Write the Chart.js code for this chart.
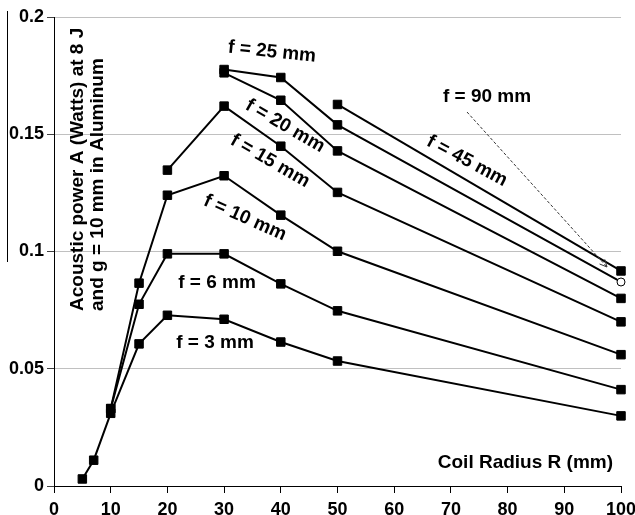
<!DOCTYPE html>
<html>
<head>
<meta charset="utf-8">
<script src="https://cdn.jsdelivr.net/npm/chart.js@4/dist/chart.umd.min.js"></script>
<style>
  html, body { margin: 0; padding: 0; background: #fff; }
  canvas { display: block; }
</style>
</head>
<body>
<canvas id="coilChart" width="635" height="515"></canvas>
<script>
// coil radius R (mm) and acoustic power (W) per focal distance f
const radii = [5, 7, 10, 15, 20, 30, 40, 50, 100];
const powerF3 = [0.003, 0.011, 0.031, 0.0606, 0.0728, 0.0711, 0.0614, 0.0533, 0.0299];
const powerF6 = [null, null, 0.033, 0.0775, 0.099, 0.099, 0.0862, 0.0747, 0.0411];
const powerF10 = [null, null, 0.033, 0.0865, 0.124, 0.1323, 0.1155, 0.1001, 0.056];
const powerF15 = [null, null, null, null, 0.1347, 0.162, 0.1449, 0.1252, 0.07];
const powerF20 = [null, null, null, null, null, 0.1762, 0.1645, 0.1429, 0.08];
const powerF25 = [null, null, null, null, null, 0.1776, 0.1742, 0.154, 0.087];
const powerF45 = [null, null, null, null, null, null, null, 0.1627, 0.0917];

const xTicks = [0, 10, 20, 30, 40, 50, 60, 70, 80, 90, 100];
const yTicks = [0, 0.05, 0.1, 0.15, 0.2];

const xTitle = "Coil Radius R (mm)";
const yTitle = ["Acoustic power A (Watts) at 8 J", "and g = 10 mm in Aluminum"];

// curve labels: text, centre x, centre y (px), angle (deg)
const curveLabels = [
  ["f = 25 mm", 272, 52, 6],
  ["f = 20 mm", 285, 126, 30],
  ["f = 15 mm", 270, 161, 30],
  ["f = 10 mm", 245, 218, 24],
  ["f = 6 mm", 217, 283, 0],
  ["f = 3 mm", 215, 343, 0],
  ["f = 45 mm", 467, 161, 28],
  ["f = 90 mm", 487, 97, 0],
];

const FONT = '"Liberation Sans", Arial, sans-serif';
Chart.defaults.font.family = FONT;
Chart.defaults.color = "#000";

const toPoints = (vals) =>
  radii.map((r, i) => ({ x: r, y: vals[i] })).filter((p) => p.y !== null);

const series = (label, vals) => ({
  label: label,
  data: toPoints(vals),
  borderColor: "#000",
  borderWidth: 2,
  pointStyle: "rect",
  pointRadius: 6,
  pointBackgroundColor: "#000",
  pointBorderColor: "#000",
  pointBorderWidth: 1,
  tension: 0,
  clip: false,
});

const f25 = series("f = 25 mm", powerF25);
f25.pointStyle = ["rect", "rect", "rect", "circle"];
f25.pointBackgroundColor = ["#000", "#000", "#000", "#fff"];
f25.pointRadius = [6, 6, 6, 4];

const annotate = {
  id: "annotate",
  afterDraw(chart) {
    const ctx = chart.ctx;
    ctx.save();
    ctx.strokeStyle = "#000";
    ctx.lineWidth = 1;
    ctx.beginPath();
    ctx.moveTo(7.5, 11);
    ctx.lineTo(7.5, 262);
    ctx.stroke();

    ctx.fillStyle = "#000";
    ctx.font = "bold 19px " + FONT;
    ctx.save();
    ctx.translate(83, 311);
    ctx.rotate(-Math.PI / 2);
    ctx.textAlign = "left";
    ctx.textBaseline = "alphabetic";
    ctx.fillText(yTitle[0], 0, 0);
    ctx.fillText(yTitle[1], 0, 20);
    ctx.restore();

    ctx.textAlign = "right";
    ctx.textBaseline = "middle";
    ctx.fillText(xTitle, 613, 463);

    ctx.font = "bold 19px " + FONT;
    ctx.textAlign = "center";
    curveLabels.forEach(([text, x, y, a]) => {
      ctx.save();
      ctx.translate(x, y);
      ctx.rotate((a * Math.PI) / 180);
      ctx.fillText(text, 0, 0);
      ctx.restore();
    });

    // dashed pointer from "f = 90 mm"
    const x0 = 467, y0 = 112, x1 = 607, y1 = 267;
    ctx.strokeStyle = "#333";
    ctx.setLineDash([3, 2]);
    ctx.beginPath();
    ctx.moveTo(x0, y0);
    ctx.lineTo(x1, y1);
    ctx.stroke();
    ctx.setLineDash([]);
    const ang = Math.atan2(y1 - y0, x1 - x0);
    ctx.beginPath();
    ctx.moveTo(x1 - 8 * Math.cos(ang - 0.45), y1 - 8 * Math.sin(ang - 0.45));
    ctx.lineTo(x1, y1);
    ctx.lineTo(x1 - 8 * Math.cos(ang + 0.45), y1 - 8 * Math.sin(ang + 0.45));
    ctx.stroke();
    ctx.restore();
  },
};

const ctx = document.getElementById("coilChart").getContext("2d");
const coilChart = new Chart(ctx, {
  type: "line",
  data: {
    datasets: [
      series("f = 3 mm", powerF3),
      series("f = 6 mm", powerF6),
      series("f = 10 mm", powerF10),
      series("f = 15 mm", powerF15),
      series("f = 20 mm", powerF20),
      f25,
      series("f = 45 mm", powerF45),
    ],
  },
  options: {
    responsive: false,
    animation: false,
    layout: { padding: { left: 0, right: 14, top: 17, bottom: 0 } },
    plugins: { legend: { display: false }, tooltip: { enabled: false } },
    scales: {
      x: {
        type: "linear",
        min: 0,
        max: 100,
        afterBuildTicks: (scale) => {
          scale.ticks = xTicks.map((v) => ({ value: v }));
        },
        afterFit: (scale) => {
          scale.height = 29;
          scale.paddingLeft = 0;
          scale.paddingRight = 0;
        },
        border: { color: "#000", width: 1 },
        grid: { drawOnChartArea: false, tickColor: "#000", tickLength: 7 },
        ticks: {
          font: { size: 18, weight: "bold" },
          padding: 6,
          maxRotation: 0,
          autoSkip: false,
          callback: (v) => String(v),
        },
      },
      y: {
        min: 0,
        max: 0.2,
        afterBuildTicks: (scale) => {
          scale.ticks = yTicks.map((v) => ({ value: v }));
        },
        afterFit: (scale) => {
          scale.width = 54;
        },
        border: { color: "#000", width: 1 },
        grid: { color: "#c0c0c0", tickColor: "#404040", tickLength: 7 },
        ticks: {
          font: { size: 18, weight: "bold" },
          padding: 3,
          callback: (v) => String(v),
        },
      },
    },
  },
  plugins: [annotate],
});
</script>
</body>
</html>
